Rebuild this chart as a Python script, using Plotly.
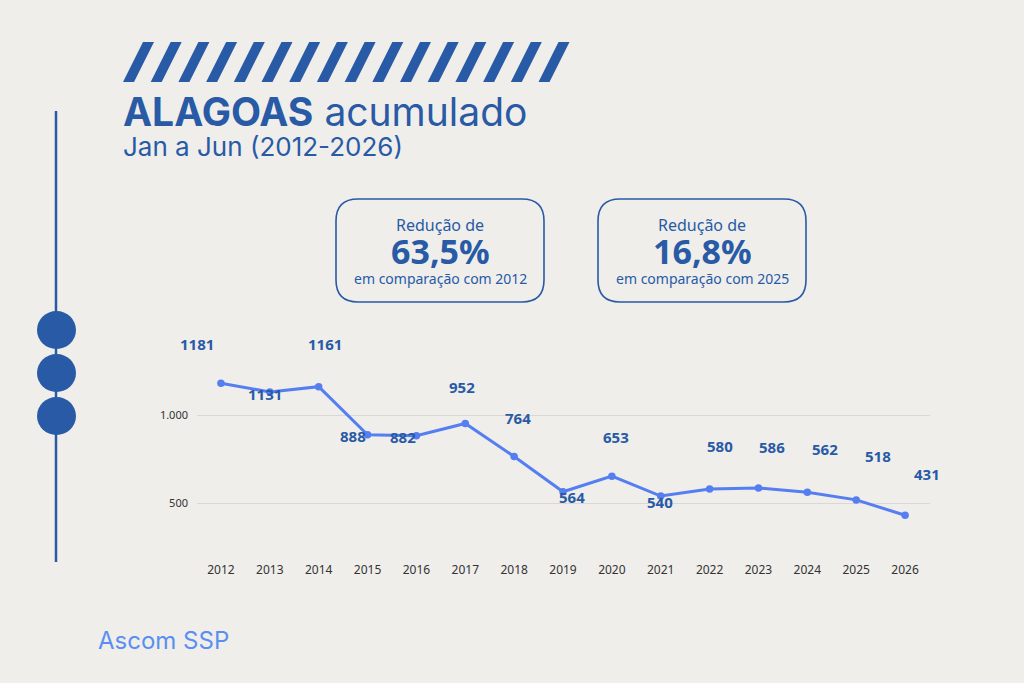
import plotly.graph_objects as go

# dados: homicídios acumulados jan-jun, Alagoas
anos = list(range(2012, 2027))
valores = [1181, 1131, 1161, 888, 882, 952, 764, 564, 653, 540, 580, 586, 562, 518, 431]

# deslocamento dos rótulos (px) em relação ao ponto
desloc_x = [-24, -5, 6, -15, -13, -3, 4, 9, 4, -1, 10, 14, 18, 22, 22]
desloc_y = [39, -2, 43, -1, -1, 36, 39, -5, 39, -6, 43, 41, 43, 44, 41]

caixas = [("63,5%", "em comparação com 2012"), ("16,8%", "em comparação com 2025")]

AZUL = "#285aa5"
AZUL_LINHA = "#557ef0"
FUNDO = "#efeeeb"

W, H = 1024, 683
L, R, T, B = 197, 930, 330, 555  # área do gráfico em pixels


def px(x, y):
    # pixel -> coordenadas paper
    return (x - L) / (R - L), (B - y) / (B - T)


fig = go.Figure()

fig.add_trace(go.Scatter(
    x=anos, y=valores, mode="lines+markers",
    line=dict(color=AZUL_LINHA, width=3),
    marker=dict(color=AZUL_LINHA, size=7.5),
    hoverinfo="x+y", showlegend=False,
))

# rótulos dos pontos
for ano, v, dx, dy in zip(anos, valores, desloc_x, desloc_y):
    fig.add_annotation(x=ano, y=v, text=str(v), showarrow=False,
                       xshift=dx, yshift=dy,
                       font=dict(family="Open Sans", size=15, color=AZUL, weight="bold"))

shapes = []

# listras do topo
for i in range(16):
    x0 = 123 + i * 27.7
    pts = [px(x0, 82), px(x0 + 11, 82), px(x0 + 31, 42), px(x0 + 20, 42)]
    path = "M " + " L ".join(f"{a},{b}" for a, b in pts) + " Z"
    shapes.append(dict(type="path", xref="paper", yref="paper", path=path,
                       fillcolor=AZUL, line=dict(width=0)))

# linha vertical e círculos à esquerda
x0, y0 = px(56, 111)
x1, y1 = px(56, 562)
shapes.append(dict(type="line", xref="paper", yref="paper", x0=x0, y0=y0, x1=x1, y1=y1,
                   line=dict(color=AZUL, width=2.5)))
for cy in (330, 373, 416):
    a0, b0 = px(37, cy - 19)
    a1, b1 = px(76, cy + 19)
    shapes.append(dict(type="circle", xref="paper", yref="paper", x0=a0, y0=b1, x1=a1, y1=b0,
                       fillcolor=AZUL, line=dict(width=0)))


def caixa_arred(x0, y0, x1, y1, r):
    p = [
        ("M", [(x0 + r, y0)]), ("L", [(x1 - r, y0)]), ("Q", [(x1, y0), (x1, y0 + r)]),
        ("L", [(x1, y1 - r)]), ("Q", [(x1, y1), (x1 - r, y1)]),
        ("L", [(x0 + r, y1)]), ("Q", [(x0, y1), (x0, y1 - r)]),
        ("L", [(x0, y0 + r)]), ("Q", [(x0, y0), (x0 + r, y0)]),
    ]
    s = ""
    for cmd, pts in p:
        s += cmd + " " + " ".join("{},{}".format(*px(a, b)) for a, b in pts) + " "
    return s + "Z"


anns = []
for k, (pct, comp) in enumerate(caixas):
    bx0 = 336 + k * 262
    bx1 = bx0 + 208
    shapes.append(dict(type="path", xref="paper", yref="paper",
                       path=caixa_arred(bx0, 199, bx1, 302, 22),
                       line=dict(color=AZUL, width=1.6)))
    cx = (bx0 + bx1) / 2
    for txt, cy, sz, wt in [("Redução de", 225, 16, "normal"), (pct, 251, 34, "bold"),
                            (comp, 278, 14, "normal")]:
        ax, ay = px(cx, cy)
        anns.append(dict(x=ax, y=ay, xref="paper", yref="paper", text=txt, showarrow=False,
                         xanchor="center", yanchor="middle",
                         font=dict(family="Noto Sans", size=sz, color=AZUL, weight=wt)))

ax, ay = px(121, 111)
anns.append(dict(x=ax, y=ay, xref="paper", yref="paper", showarrow=False,
                 xanchor="left", yanchor="middle",
                 text="<b>ALAGOAS</b> acumulado",
                 font=dict(family="Inter", size=39, color=AZUL)))
ax, ay = px(121, 146)
anns.append(dict(x=ax, y=ay, xref="paper", yref="paper", showarrow=False,
                 xanchor="left", yanchor="middle", text="Jan a Jun (2012-2026)",
                 font=dict(family="Inter", size=26, color=AZUL)))
ax, ay = px(96, 640)
anns.append(dict(x=ax, y=ay, xref="paper", yref="paper", showarrow=False,
                 xanchor="left", yanchor="middle", text="Ascom SSP",
                 font=dict(family="Inter", size=24, color="#5b8ef2")))

fig.update_layout(
    width=W, height=H,
    margin=dict(l=L, r=W - R, t=T, b=H - B, pad=0),
    paper_bgcolor=FUNDO, plot_bgcolor=FUNDO,
    separators=",.",
    shapes=shapes,
    font=dict(family="Noto Sans", color="#333333"),
)
for a in anns:
    fig.add_annotation(**a)

fig.update_xaxes(range=[2011.51, 2026.51], tickvals=anos, showgrid=False, zeroline=False,
                 showline=False, ticks="", tickfont=dict(size=12, color="#333333"),
                 ticklabelstandoff=6)
fig.update_yaxes(range=[205, 1483], tickvals=[500, 1000], tickformat=",d",
                 showgrid=True, gridcolor="#d9d8d4", gridwidth=1, zeroline=False,
                 showline=False, ticks="", tickfont=dict(size=11, color="#333333"),
                 ticklabelstandoff=8)

fig.write_html("out.html", config={"displayModeBar": False},
               post_script="document.body.style.margin='0';"
                           "document.body.style.background='%s';" % FUNDO)
